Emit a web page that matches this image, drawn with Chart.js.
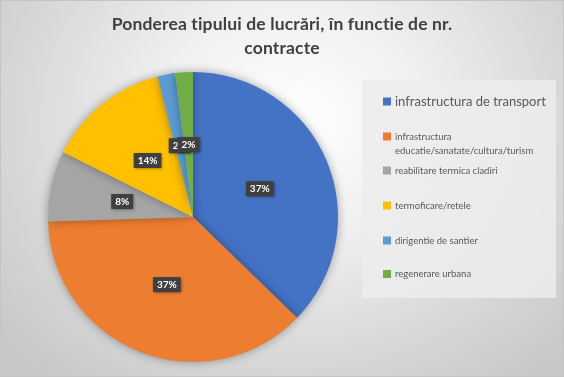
<!DOCTYPE html>
<html>
<head>
<meta charset="utf-8">
<script src="https://cdn.jsdelivr.net/npm/chart.js@4"></script>
<style>
  html, body { margin: 0; padding: 0; }
  body { width: 564px; height: 377px; overflow: hidden; }
  #wrap {
    position: relative; width: 564px; height: 377px; box-sizing: border-box;
    border: 1px solid #c4c4c4;
    background: radial-gradient(ellipse 380px 330px at 290px 120px, #ffffff 0%, #f0f0f0 35%, #d6d6d6 75%, #c8c8c8 100%);
  }
  canvas { position: absolute; left: 0; top: 0; }
</style>
</head>
<body>
<div id="wrap"><canvas id="c" width="562" height="375"></canvas></div>
<script>
const titleLines = ["Ponderea tipului de lucrări, în functie de nr.", "contracte"];
const categories = [
  "infrastructura de transport",
  "infrastructura educatie/sanatate/cultura/turism",
  "reabilitare termica cladiri",
  "termoficare/retele",
  "dirigentie de santier",
  "regenerare urbana"
];
// legend text lines (wrapped as in the picture)
const legendLines = [
  ["infrastructura de transport"],
  ["infrastructura", "educatie/sanatate/cultura/turism"],
  ["reabilitare termica cladiri"],
  ["termoficare/retele"],
  ["dirigentie de santier"],
  ["regenerare urbana"]
];
const contracts = [19, 19, 4, 7, 1, 1];
const colors = ["#4472C4", "#ED7D31", "#A5A5A5", "#FFC000", "#5B9BD5", "#70AD47"];

const total = contracts.reduce((a, b) => a + b, 0);

// title centred on the whole picture, not on the pie area
const wideTitle = {
  id: "wideTitle",
  afterDraw(chart) {
    const ctx = chart.ctx;
    ctx.save();
    ctx.fillStyle = "#404040";
    ctx.font = "bold 17.5px Lato, 'Open Sans', sans-serif";
    ctx.letterSpacing = "0.15px"; // also stops the "ti" ligature
    ctx.textAlign = "center";
    ctx.textBaseline = "middle";
    titleLines.forEach((ln, i) => ctx.fillText(ln, chart.width / 2, 23 + i * 24));
    ctx.restore();
  }
};

// soft shadow behind the pie
const pieShadow = {
  id: "pieShadow",
  beforeDatasetsDraw(chart) {
    const ctx = chart.ctx;
    ctx.save();
    ctx.shadowColor = "rgba(0,0,0,0.35)";
    ctx.shadowBlur = 10;
  },
  afterDatasetsDraw(chart) {
    chart.ctx.restore();
  }
};

// dark percentage boxes on each slice
const sliceLabels = {
  id: "sliceLabels",
  afterDraw(chart) {
    const ctx = chart.ctx;
    const meta = chart.getDatasetMeta(0);
    ctx.save();
    ctx.font = "bold 10px Lato, 'DejaVu Sans', sans-serif";
    ctx.textAlign = "center";
    ctx.textBaseline = "middle";
    meta.data.forEach((arc, i) => {
      const p = arc.tooltipPosition();
      const txt = Math.round(contracts[i] / total * 100) + "%";
      const w = ctx.measureText(txt).width + 8;
      const h = 15;
      ctx.shadowColor = "rgba(0,0,0,0.45)";
      ctx.shadowBlur = 3;
      ctx.shadowOffsetX = 1;
      ctx.shadowOffsetY = 1;
      ctx.fillStyle = "#404040";
      ctx.fillRect(p.x - w / 2, p.y - h / 2, w, h);
      ctx.shadowColor = "transparent";
      ctx.fillStyle = "#ffffff";
      ctx.fillText(txt, p.x, p.y + 0.5);
    });
    ctx.restore();
  }
};

// legend panel on the right
const sideLegend = {
  id: "sideLegend",
  afterDraw(chart) {
    const ctx = chart.ctx;
    ctx.save();
    ctx.fillStyle = "rgba(236,236,236,0.85)";
    ctx.fillRect(361, 79, 194, 218);
    const rows = [100.5, 135.5, 169.5, 204.5, 239.5, 273];
    ctx.textBaseline = "middle";
    ctx.textAlign = "left";
    legendLines.forEach((lines, i) => {
      const y = rows[i];
      ctx.fillStyle = colors[i];
      ctx.fillRect(382, y - 4, 8, 8);
      ctx.fillStyle = "#595959";
      ctx.font = (i === 0 ? "13px" : "9.5px") + " Lato, 'Open Sans', sans-serif";
      lines.forEach((ln, k) => {
        ctx.fillText(ln, 394, y + k * 14);
      });
    });
    ctx.restore();
  }
};

new Chart(document.getElementById("c"), {
  type: "pie",
  data: {
    labels: categories,
    datasets: [{
      data: contracts,
      backgroundColor: colors,
      borderWidth: 0
    }]
  },
  options: {
    responsive: false,
    animation: false,
    layout: { padding: { left: 47, right: 225, top: 71, bottom: 14 } },
    plugins: {
      legend: { display: false },
      tooltip: { enabled: false },
      title: { display: false }
    }
  },
  plugins: [pieShadow, sliceLabels, sideLegend, wideTitle]
});
</script>
</body>
</html>
